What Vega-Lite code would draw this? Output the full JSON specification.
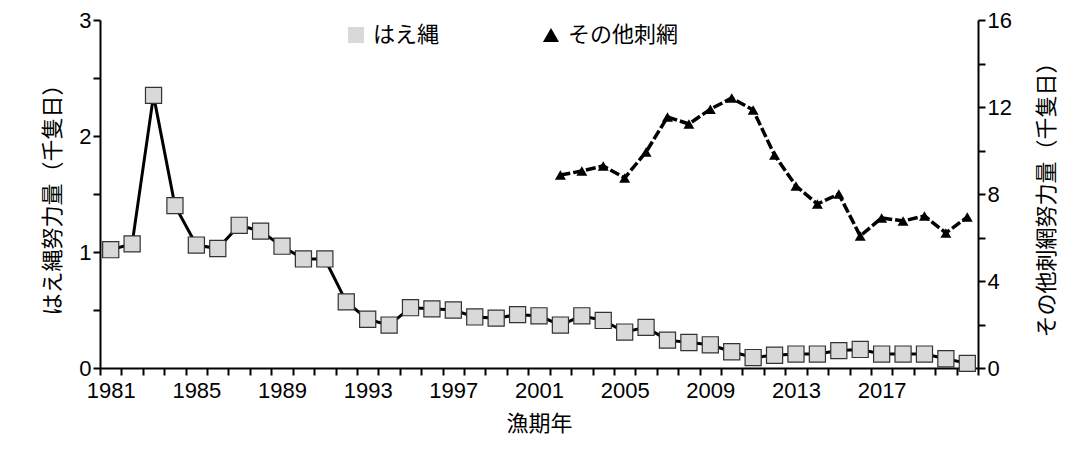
{
  "$schema": "https://vega.github.io/schema/vega-lite/v6.json",
  "width": 878,
  "height": 348,
  "autosize": "none",
  "padding": {"left": 100, "top": 20, "right": 95, "bottom": 93},
  "config": {
    "font": "Liberation Sans",
    "view": {"stroke": null},
    "axis": {"labelFontSize": 22, "titleFontSize": 22, "labelColor": "black", "titleColor": "black", "domainColor": "black", "domainWidth": 2, "tickWidth": 2, "tickColor": "black", "grid": false, "titleFontWeight": "normal", "labelFont": "Liberation Sans", "titleFont": "Noto Sans CJK JP"}
  },
  "data": {"values": [
    {"year":1981,"s":"はえ縄","v":1.02},{"year":1982,"s":"はえ縄","v":1.07},{"year":1983,"s":"はえ縄","v":2.35},{"year":1984,"s":"はえ縄","v":1.40},{"year":1985,"s":"はえ縄","v":1.06},{"year":1986,"s":"はえ縄","v":1.03},{"year":1987,"s":"はえ縄","v":1.23},{"year":1988,"s":"はえ縄","v":1.18},{"year":1989,"s":"はえ縄","v":1.05},{"year":1990,"s":"はえ縄","v":0.94},{"year":1991,"s":"はえ縄","v":0.94},{"year":1992,"s":"はえ縄","v":0.57},{"year":1993,"s":"はえ縄","v":0.42},{"year":1994,"s":"はえ縄","v":0.37},{"year":1995,"s":"はえ縄","v":0.52},{"year":1996,"s":"はえ縄","v":0.51},{"year":1997,"s":"はえ縄","v":0.50},{"year":1998,"s":"はえ縄","v":0.44},{"year":1999,"s":"はえ縄","v":0.43},{"year":2000,"s":"はえ縄","v":0.46},{"year":2001,"s":"はえ縄","v":0.45},{"year":2002,"s":"はえ縄","v":0.37},{"year":2003,"s":"はえ縄","v":0.45},{"year":2004,"s":"はえ縄","v":0.41},{"year":2005,"s":"はえ縄","v":0.31},{"year":2006,"s":"はえ縄","v":0.35},{"year":2007,"s":"はえ縄","v":0.24},{"year":2008,"s":"はえ縄","v":0.22},{"year":2009,"s":"はえ縄","v":0.20},{"year":2010,"s":"はえ縄","v":0.14},{"year":2011,"s":"はえ縄","v":0.09},{"year":2012,"s":"はえ縄","v":0.11},{"year":2013,"s":"はえ縄","v":0.12},{"year":2014,"s":"はえ縄","v":0.12},{"year":2015,"s":"はえ縄","v":0.15},{"year":2016,"s":"はえ縄","v":0.16},{"year":2017,"s":"はえ縄","v":0.12},{"year":2018,"s":"はえ縄","v":0.12},{"year":2019,"s":"はえ縄","v":0.12},{"year":2020,"s":"はえ縄","v":0.08},{"year":2021,"s":"はえ縄","v":0.04},
    {"year":2002,"s":"その他刺網","v":8.87},{"year":2003,"s":"その他刺網","v":9.06},{"year":2004,"s":"その他刺網","v":9.29},{"year":2005,"s":"その他刺網","v":8.74},{"year":2006,"s":"その他刺網","v":9.93},{"year":2007,"s":"その他刺網","v":11.54},{"year":2008,"s":"その他刺網","v":11.22},{"year":2009,"s":"その他刺網","v":11.9},{"year":2010,"s":"その他刺網","v":12.41},{"year":2011,"s":"その他刺網","v":11.86},{"year":2012,"s":"その他刺網","v":9.79},{"year":2013,"s":"その他刺網","v":8.37},{"year":2014,"s":"その他刺網","v":7.54},{"year":2015,"s":"その他刺網","v":8.0},{"year":2016,"s":"その他刺網","v":6.07},{"year":2017,"s":"その他刺網","v":6.9},{"year":2018,"s":"その他刺網","v":6.76},{"year":2019,"s":"その他刺網","v":6.99},{"year":2020,"s":"その他刺網","v":6.21},{"year":2021,"s":"その他刺網","v":6.94}
  ]},
  "encoding": {
    "x": {"field": "year", "type": "quantitative", "scale": {"domain": [1980.5, 2021.5], "nice": false, "zero": false},
      "axis": {"title": "漁期年", "values": [1980.5,1981.5,1982.5,1983.5,1984.5,1985.5,1986.5,1987.5,1988.5,1989.5,1990.5,1991.5,1992.5,1993.5,1994.5,1995.5,1996.5,1997.5,1998.5,1999.5,2000.5,2001.5,2002.5,2003.5,2004.5,2005.5,2006.5,2007.5,2008.5,2009.5,2010.5,2011.5,2012.5,2013.5,2014.5,2015.5,2016.5,2017.5,2018.5,2019.5,2020.5,2021.5],
        "labelExpr": "((datum.value + 0.5 - 1981) % 4 === 0 && datum.value < 2018) ? '' + (datum.value + 0.5) : ''",
        "labelOffset": 10.7, "labelOverlap": false, "labelBound": false, "labelFlush": false, "tickSize": 7, "labelPadding": 5, "titlePadding": 12}}
  },
  "layer": [
    {
      "transform": [{"filter": "datum.s === 'はえ縄'"}],
      "encoding": {
        "y": {"field": "v", "type": "quantitative", "scale": {"domain": [0, 3]},
          "axis": {"title": "はえ縄努力量（千隻日）", "values": [0,0.5,1,1.5,2,2.5,3], "labelExpr": "datum.value % 1 === 0 ? format(datum.value, 'd') : ''", "tickSize": 7, "titlePadding": 14}}
      },
      "layer": [
        {"mark": {"type": "line", "color": "black", "strokeWidth": 3}},
        {"mark": {"type": "point", "filled": true, "size": 260, "stroke": "#333", "strokeWidth": 1.2, "opacity": 1},
          "encoding": {
            "shape": {"field": "s", "type": "nominal", "scale": {"domain": ["はえ縄","その他刺網"], "range": ["square","triangle-up"]},
              "legend": {"title": null, "orient": "none", "direction": "horizontal", "legendX": 245, "legendY": 4, "labelFontSize": 22, "labelFont": "Noto Sans CJK JP", "symbolSize": 260, "symbolStrokeColor": "#333", "symbolStrokeWidth": 1.2, "columnPadding": 100, "labelColor": "black", "labelOffset": 6}},
            "fill": {"field": "s", "type": "nominal", "scale": {"domain": ["はえ縄","その他刺網"], "range": ["#d9d9d9","black"]}, "legend": null}
          }}
      ]
    },
    {
      "transform": [{"filter": "datum.s === 'その他刺網'"}],
      "encoding": {
        "y": {"field": "v", "type": "quantitative", "scale": {"domain": [0, 16]},
          "axis": {"orient": "right", "title": "その他刺網努力量（千隻日）", "titleAngle": 270, "titleX": 68, "titleY": 174, "titleAlign": "center", "titleBaseline": "middle", "values": [0,2,4,6,8,10,12,14,16], "labelExpr": "datum.value % 4 === 0 ? datum.label : ''", "tickSize": 7}}
      },
      "layer": [
        {"mark": {"type": "line", "color": "black", "strokeWidth": 3.5, "strokeDash": [10, 3]}},
        {"mark": {"type": "point", "filled": true, "size": 120, "opacity": 1},
          "encoding": {
            "shape": {"field": "s", "type": "nominal", "scale": {"domain": ["はえ縄","その他刺網"], "range": ["square","triangle-up"]}},
            "fill": {"field": "s", "type": "nominal", "scale": {"domain": ["はえ縄","その他刺網"], "range": ["#d9d9d9","black"]}, "legend": null}
          }}
      ]
    }
  ],
  "resolve": {"scale": {"y": "independent"}}
}
